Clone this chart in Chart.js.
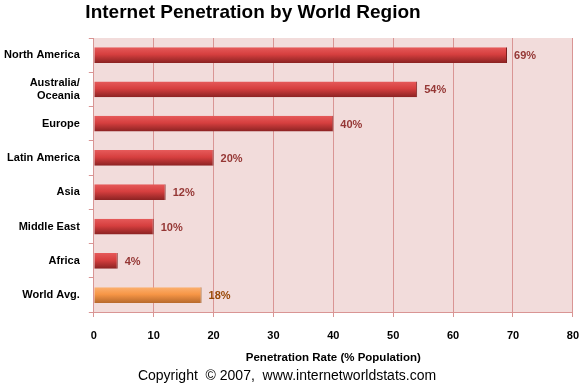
<!DOCTYPE html>
<html>
<head>
<meta charset="utf-8">
<script src="https://cdn.jsdelivr.net/npm/chart.js@4/dist/chart.umd.min.js"></script>
<style>
  html, body { margin: 0; padding: 0; background: #fff; }
  #wrap { width: 579px; height: 385px; }
</style>
</head>
<body>
<div id="wrap"><canvas id="chart"></canvas></div>
<script>
var regions = ['North America', ['Australia/', 'Oceania'], 'Europe', 'Latin America', 'Asia', 'Middle East', 'Africa', 'World Avg.'];
var penetration = [69, 54, 40, 20, 12, 10, 4, 18];
var xTicks = [0, 10, 20, 30, 40, 50, 60, 70, 80];

var FONT = '"Liberation Sans", Arial, sans-serif';
var TITLE = 'Internet Penetration by World Region';

// pink plot background
var plotBg = {
    id: 'plotBg',
    beforeDraw: function (chart) {
        var a = chart.chartArea, ctx = chart.ctx;
        ctx.save();
        ctx.fillStyle = '#f2dcdb';
        ctx.fillRect(a.left, a.top, a.right - a.left, a.bottom - a.top);
        ctx.restore();
    }
};

// main title, sits left of centre like the original
var mainTitle = {
    id: 'mainTitle',
    afterDraw: function (chart) {
        var ctx = chart.ctx;
        ctx.save();
        ctx.font = 'bold 19px ' + FONT;
        ctx.fillStyle = '#000';
        ctx.textAlign = 'center';
        ctx.textBaseline = 'middle';
        ctx.fillText(TITLE, chart.width * 0.437, 13);
        ctx.restore();
    }
};

// shaded bars: a vertical gradient for each bar from its own box
var barShade = {
    id: 'barShade',
    beforeDatasetsDraw: function (chart) {
        var ctx = chart.ctx;
        chart.getDatasetMeta(0).data.forEach(function (bar, i) {
            var top = bar.y - bar.height / 2, bot = bar.y + bar.height / 2;
            var g = ctx.createLinearGradient(0, top, 0, bot);
            if (i === penetration.length - 1) {
                g.addColorStop(0, '#fbb070');
                g.addColorStop(0.45, '#f79646');
                g.addColorStop(1, '#b8692c');
            } else {
                g.addColorStop(0, '#e65a5a');
                g.addColorStop(0.45, '#d63f3f');
                g.addColorStop(1, '#8a2222');
            }
            bar.options.backgroundColor = g;
        });
    }
};

// value labels at the end of each bar
var valueLabels = {
    id: 'valueLabels',
    afterDatasetsDraw: function (chart) {
        var ctx = chart.ctx;
        ctx.save();
        ctx.font = 'bold 11px ' + FONT;
        ctx.textBaseline = 'middle';
        chart.getDatasetMeta(0).data.forEach(function (bar, i) {
            ctx.fillStyle = i === penetration.length - 1 ? '#984806' : '#953735';
            ctx.fillText(penetration[i] + '%', bar.x + 7, bar.y + 1);
        });
        ctx.restore();
    }
};

var ctx = document.getElementById('chart').getContext('2d');
var chart = new Chart(ctx, {
    type: 'bar',
    data: {
        labels: regions,
        datasets: [{
            data: penetration,
            // scriptable so every bar gets its own options object
            backgroundColor: function (c) { return c.dataIndex === penetration.length - 1 ? '#f79646' : '#d23c3c'; },
            borderColor: function (c) { return c.dataIndex === penetration.length - 1 ? '#9a5a20' : '#7a1e1e'; },
            borderWidth: { right: 1 },
            borderSkipped: 'left',
            categoryPercentage: 0.46,
            barPercentage: 1
        }]
    },
    options: {
        indexAxis: 'y',
        responsive: true,
        maintainAspectRatio: false,
        animation: false,
        layout: { padding: { left: -5, right: 0, top: 38, bottom: 0 } },
        plugins: {
            legend: { display: false },
            tooltip: { enabled: false },
            title: { display: false },
            subtitle: {
                display: true,
                position: 'bottom',
                text: 'Copyright  \u00a9 2007,  www.internetworldstats.com',
                color: '#000',
                font: { family: FONT, size: 14 },
                padding: { top: 3, bottom: 0 }
            }
        },
        scales: {
            x: {
                min: 0,
                max: 80,
                afterBuildTicks: function (axis) {
                    axis.ticks = xTicks.map(function (v) { return { value: v }; });
                },
                // long tick slot, but only the first 4px of it is drawn
                grid: { color: '#d99594', tickLength: 17, tickBorderDash: [4, 40] },
                border: { color: '#d99594' },
                ticks: { color: '#000', padding: 0, font: { family: FONT, size: 11, weight: 'bold' } },
                title: {
                    display: true,
                    text: 'Penetration Rate (% Population)',
                    color: '#000',
                    font: { family: FONT, size: 11.5, weight: 'bold' },
                    padding: { top: 9, bottom: 0 }
                }
            },
            y: {
                grid: { offset: true, drawOnChartArea: false, color: '#d99594', tickLength: 5 },
                border: { color: '#d99594' },
                ticks: { color: '#000', padding: 9, font: { family: FONT, size: 11, weight: 'bold' } }
            }
        }
    },
    plugins: [plotBg, barShade, valueLabels, mainTitle]
});
</script>
</body>
</html>
